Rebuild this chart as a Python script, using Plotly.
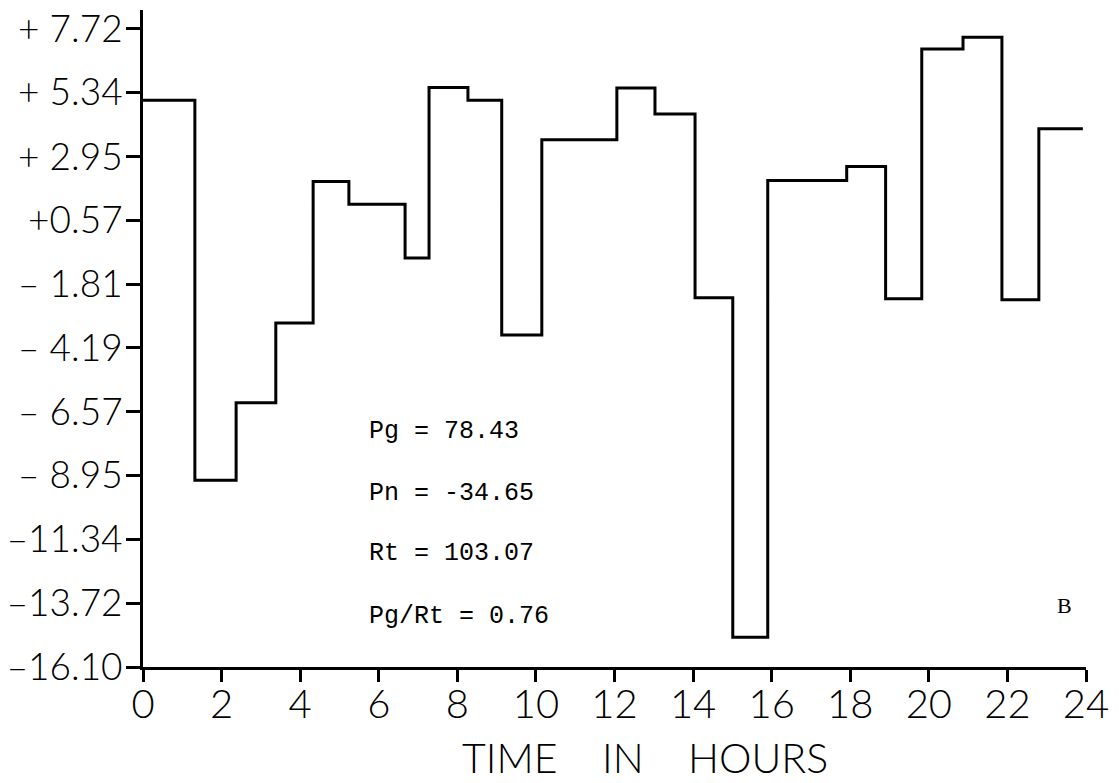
import plotly.graph_objects as go

# Step start times (hours) and hourly values
step_starts = [0, 1.32, 2.37, 3.38, 4.33, 5.24, 6.67, 7.28, 8.27, 9.13, 10.15,
               12.06, 13.03, 14.05, 15.01, 15.90, 17.91, 18.90, 19.82, 20.87,
               21.86, 22.80]
step_end = 23.92
step_values = [5.05, -9.13, -6.24, -3.26, 2.02, 1.17, -0.84, 5.53, 5.05, -3.71,
               3.58, 5.51, 4.54, -2.32, -14.99, 2.06, 2.58, -2.36, 6.96, 7.40,
               -2.39, 3.99]

y_tick_vals = [7.72, 5.34, 2.95, 0.57, -1.81, -4.19, -6.57, -8.95, -11.34, -13.72, -16.10]
y_tick_text = ["+ 7.72", "+ 5.34", "+ 2.95", "+0.57", "– 1.81", "– 4.19",
               "– 6.57", "– 8.95", "–11.34", "–13.72", "–16.10"]
x_tick_vals = list(range(0, 25, 2))
x_tick_text = [str(v) for v in x_tick_vals]
x_title = "TIME    IN    HOURS"

stats_labels = ["Pg = 78.43", "Pn = -34.65", "Rt = 103.07", "Pg/Rt = 0.76"]
stats_y = [-7.31, -9.64, -11.87, -14.20]
stats_x = 5.70
panel_label = "B"

xs = step_starts + [step_end]
ys = step_values + [step_values[-1]]

fig = go.Figure()
fig.add_trace(go.Scatter(
    x=xs, y=ys, mode="lines", line=dict(color="black", width=3, shape="hv"),
    hoverinfo="skip", showlegend=False))

for txt, yy in zip(stats_labels, stats_y):
    fig.add_annotation(x=stats_x, y=yy, text=txt, showarrow=False,
                       xanchor="left", yanchor="middle",
                       font=dict(family="Liberation Mono", size=25, color="black"))
fig.add_annotation(x=23.46, y=-13.80, text=panel_label, showarrow=False,
                   xanchor="center", yanchor="middle",
                   font=dict(family="Liberation Serif", size=22, color="black"))

# x-axis title, placed under the tick labels
fig.add_annotation(x=0.532, y=-0.138, xref="paper", yref="paper", text=x_title,
                   showarrow=False, xanchor="center", yanchor="middle",
                   font=dict(family="Lato", size=41, color="black", weight=300))

fig.update_layout(
    width=1119, height=783,
    margin=dict(l=143, r=33, t=5, b=116),
    paper_bgcolor="white", plot_bgcolor="white",
    xaxis=dict(range=[0, 24], tickvals=x_tick_vals, ticktext=x_tick_text,
               showline=True, linecolor="black", linewidth=3,
               ticks="outside", ticklen=12, tickwidth=3, tickcolor="black",
               ticklabelstandoff=-12, ticklabeloverflow="allow",
               showgrid=False, zeroline=False,
               tickfont=dict(family="Lato", size=40, color="black", weight=300)),
    yaxis=dict(range=[-16.10, 8.42], tickvals=y_tick_vals, ticktext=y_tick_text,
               showline=True, linecolor="black", linewidth=3,
               ticks="outside", ticklen=14, tickwidth=3, tickcolor="black",
               ticklabelstandoff=-4, ticklabeloverflow="allow",
               showgrid=False, zeroline=False,
               tickfont=dict(family="Lato", size=37, color="black", weight=300)),
)

fig.write_html("out.html")
